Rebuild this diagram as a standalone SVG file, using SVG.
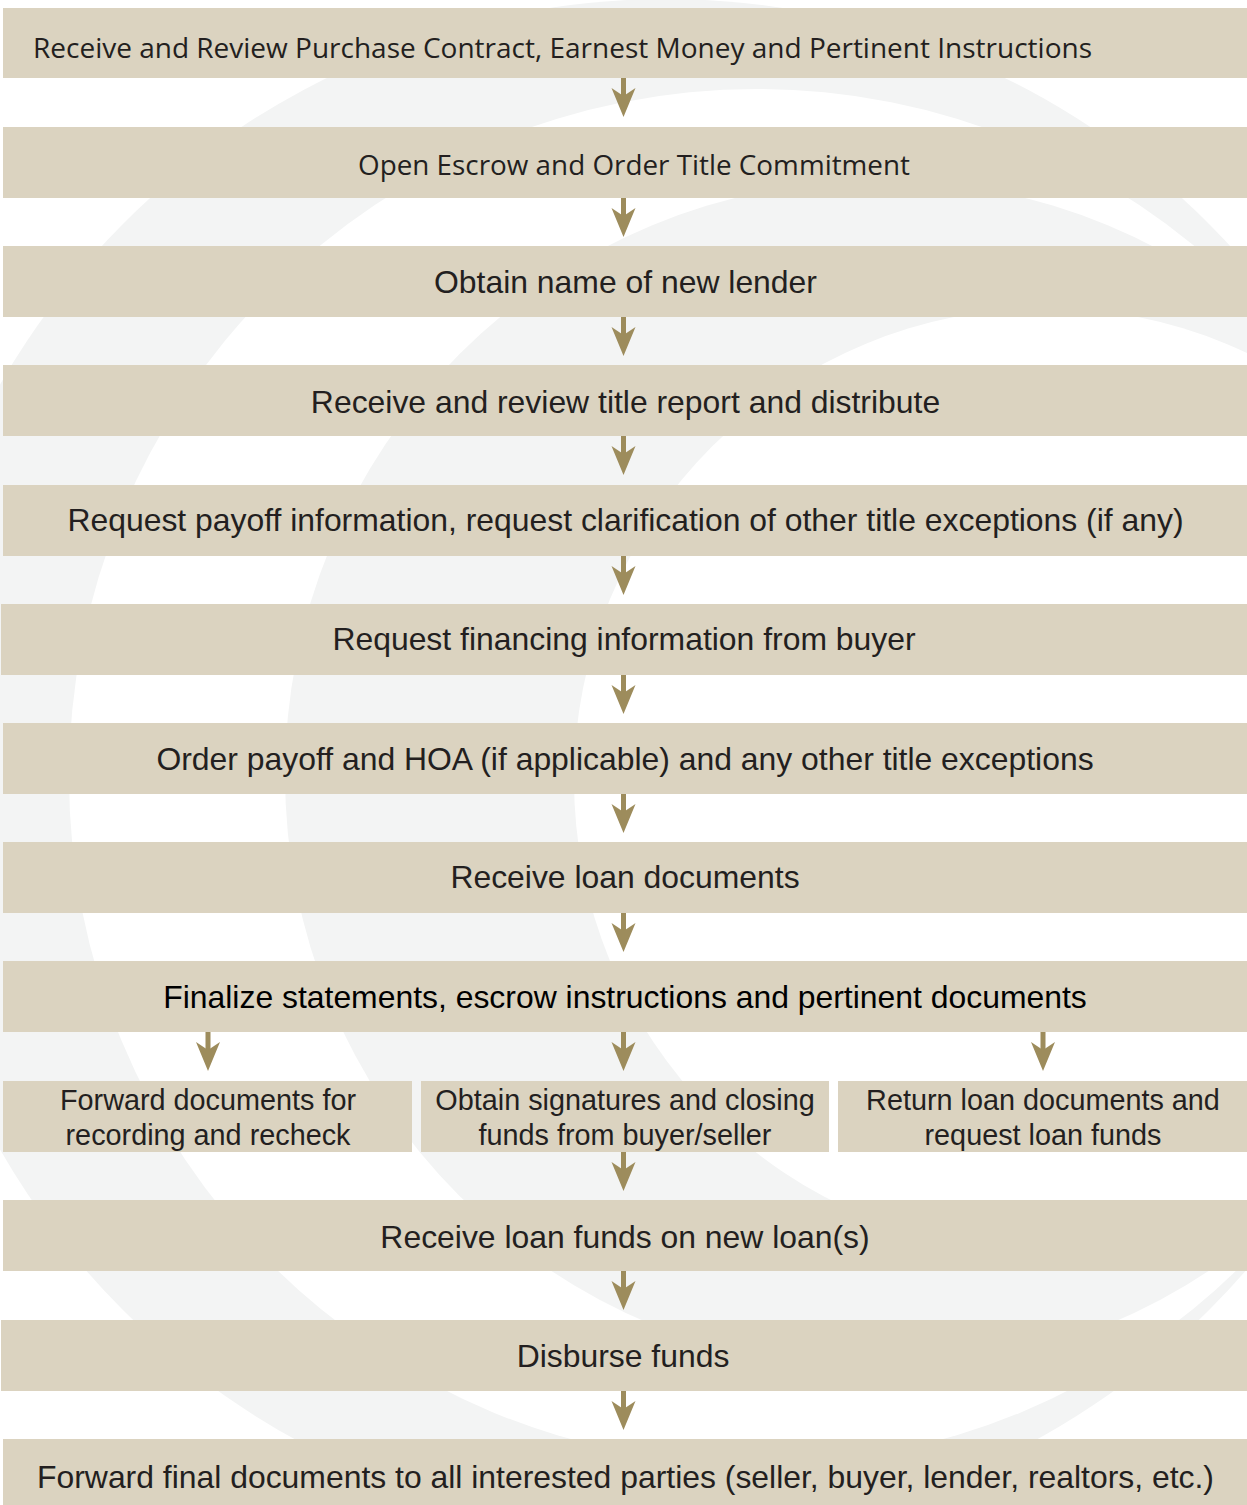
<svg xmlns="http://www.w3.org/2000/svg" width="1247" height="1505" viewBox="0 0 1247 1505">
<defs>
<style>
.box{fill:#dbd3c0}
.t{font-family:"Liberation Sans",Arial,sans-serif;font-size:31.9px;fill:#231f20;text-anchor:middle}
.ts{font-family:"Liberation Sans",Arial,sans-serif;font-size:28.8px;fill:#231f20;text-anchor:middle}
.tc{font-family:"Open Sans","Noto Sans",sans-serif;font-size:27.5px;fill:#231f20;text-anchor:middle}
.wm{fill:#f3f4f4}
.wh{fill:#ffffff}
.arr{fill:#9d8c5c}
</style>
<g id="arrow">
<rect x="-2.5" y="0" width="5" height="18"/>
<path d="M-12,10 L0,39 L12,10 L0,18 Z"/>
</g>
</defs>
<rect width="1247" height="1505" fill="#ffffff"/>
<g id="watermark">
<circle class="wm" cx="666" cy="767" r="768"/>
<circle class="wh" cx="757" cy="777" r="688"/>
<circle class="wm" cx="880" cy="775" r="595"/>
<circle class="wh" cx="1046" cy="780" r="472"/>
</g>
<g id="connectors" class="arr">
<use href="#arrow" transform="translate(623.5,78)"/>
<use href="#arrow" transform="translate(623.5,198)"/>
<use href="#arrow" transform="translate(623.5,317)"/>
<use href="#arrow" transform="translate(623.5,436)"/>
<use href="#arrow" transform="translate(623.5,556)"/>
<use href="#arrow" transform="translate(623.5,675)"/>
<use href="#arrow" transform="translate(623.5,794)"/>
<use href="#arrow" transform="translate(623.5,913)"/>
<use href="#arrow" transform="translate(208,1032)"/>
<use href="#arrow" transform="translate(623.5,1032)"/>
<use href="#arrow" transform="translate(1043,1032)"/>
<use href="#arrow" transform="translate(623.5,1152)"/>
<use href="#arrow" transform="translate(623.5,1271)"/>
<use href="#arrow" transform="translate(623.5,1391)"/>
</g>
<g id="n1"><rect class="box" x="3" y="8" width="1244" height="70"/><text class="tc" x="562.5" y="58" textLength="1059" lengthAdjust="spacingAndGlyphs">Receive and Review Purchase Contract, Earnest Money and Pertinent Instructions</text></g>
<g id="n2"><rect class="box" x="3" y="127" width="1244" height="71"/><text class="tc" x="634" y="175" textLength="552" lengthAdjust="spacingAndGlyphs">Open Escrow and Order Title Commitment</text></g>
<g id="n3"><rect class="box" x="3" y="246" width="1244" height="71"/><text class="t" x="625.5" y="293">Obtain name of new lender</text></g>
<g id="n4"><rect class="box" x="3" y="365" width="1244" height="71"/><text class="t" x="625.5" y="413">Receive and review title report and distribute</text></g>
<g id="n5"><rect class="box" x="3" y="485" width="1244" height="71"/><text class="t" x="625.5" y="531">Request payoff information, request clarification of other title exceptions (if any)</text></g>
<g id="n6"><rect class="box" x="1" y="604" width="1246" height="71"/><text class="t" x="624" y="650">Request financing information from buyer</text></g>
<g id="n7"><rect class="box" x="3" y="723" width="1244" height="71"/><text class="t" x="625" y="770">Order payoff and HOA (if applicable) and any other title exceptions</text></g>
<g id="n8"><rect class="box" x="3" y="842" width="1244" height="71"/><text class="t" x="625" y="888">Receive loan documents</text></g>
<g id="n9"><rect class="box" x="3" y="961" width="1244" height="71"/><text class="t" x="625" y="1008" style="fill:#000">Finalize statements, escrow instructions and pertinent documents</text></g>
<g id="n10a"><rect class="box" x="3" y="1081" width="409" height="71"/><text class="ts" x="208" y="1110">Forward documents for</text><text class="ts" x="208" y="1145">recording and recheck</text></g>
<g id="n10b"><rect class="box" x="421" y="1081" width="408" height="71"/><text class="ts" x="625" y="1110">Obtain signatures and closing</text><text class="ts" x="625" y="1145">funds from buyer/seller</text></g>
<g id="n10c"><rect class="box" x="838" y="1081" width="409" height="71"/><text class="ts" x="1043" y="1110">Return loan documents and</text><text class="ts" x="1043" y="1145">request loan funds</text></g>
<g id="n11"><rect class="box" x="3" y="1200" width="1244" height="71"/><text class="t" x="625" y="1248">Receive loan funds on new loan(s)</text></g>
<g id="n12"><rect class="box" x="1" y="1320" width="1246" height="71"/><text class="t" x="623" y="1367">Disburse funds</text></g>
<g id="n13"><rect class="box" x="3" y="1439" width="1244" height="66"/><text class="t" x="625.5" y="1488">Forward final documents to all interested parties (seller, buyer, lender, realtors, etc.)</text></g>
</svg>
